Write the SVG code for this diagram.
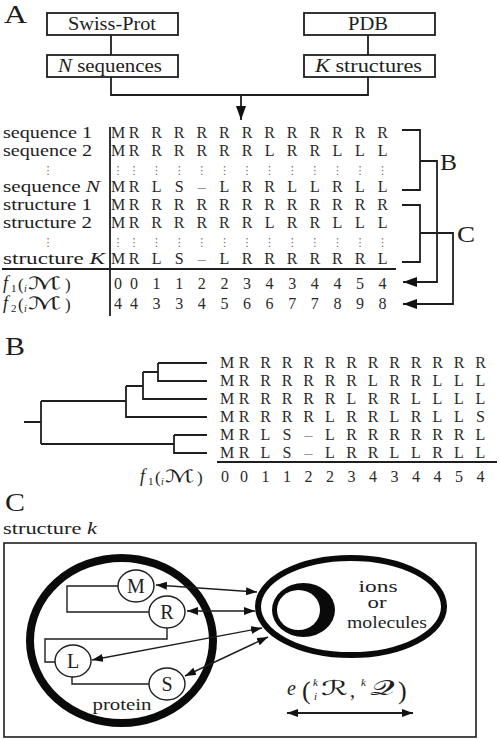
<svg xmlns="http://www.w3.org/2000/svg" width="500" height="739" viewBox="0 0 500 739">
<defs>
<style>
.t{font-family:"Liberation Serif","Times New Roman",serif;fill:#1e1e1e}
.it{font-style:italic}
.big{font-size:25px}
.box{fill:#fff;stroke:#1e1e1e;stroke-width:1.8}
.ln{fill:none;stroke:#1e1e1e;stroke-width:1.8}
.thin{fill:none;stroke:#1e1e1e;stroke-width:1.4}
.mx{font-family:"Liberation Serif","Times New Roman",serif;font-size:16px;fill:#2a2a2a;text-anchor:middle}
.dots{font-family:"DejaVu Sans",sans-serif;font-size:11px;fill:#666;text-anchor:middle}
.lab{font-family:"Liberation Serif","Times New Roman",serif;font-size:16px;fill:#1e1e1e}
.math{font-family:"DejaVu Sans","Noto Sans CJK SC",sans-serif;fill:#1e1e1e}
.dash{fill:#999}
</style>
<marker id="ah" viewBox="0 0 14 10" refX="14" refY="5" markerWidth="14" markerHeight="10" markerUnits="userSpaceOnUse" orient="auto-start-reverse"><path d="M0,0 L14,5 L0,10 z" fill="#111"/></marker>
<marker id="ah2" viewBox="0 0 11 8" refX="11" refY="4" markerWidth="11" markerHeight="8" markerUnits="userSpaceOnUse" orient="auto-start-reverse"><path d="M0,0 L11,4 L0,8 z" fill="#111"/></marker>
</defs>
<rect width="500" height="739" fill="#fff"/>

<!-- Panel labels -->
<text class="t big" x="4" y="23" textLength="23" lengthAdjust="spacingAndGlyphs">A</text>
<text class="t big" x="5" y="355" textLength="20" lengthAdjust="spacingAndGlyphs">B</text>
<text class="t big" x="5" y="511" textLength="20" lengthAdjust="spacingAndGlyphs">C</text>

<!-- Panel A nodes -->
<g id="swissprot"><rect class="box" x="47" y="13" width="131" height="22"/><text class="t" x="112" y="30" font-size="18" text-anchor="middle" textLength="88" lengthAdjust="spacingAndGlyphs">Swiss-Prot</text></g>
<g id="pdb"><rect class="box" x="304" y="13" width="131" height="22"/><text class="t" x="368" y="30" font-size="18" text-anchor="middle" textLength="40" lengthAdjust="spacingAndGlyphs">PDB</text></g>
<g id="nseq"><rect class="box" x="47" y="55" width="131" height="22"/><text class="t" x="58" y="72" font-size="18" textLength="104" lengthAdjust="spacingAndGlyphs"><tspan class="it">N</tspan> sequences</text></g>
<g id="kstruct"><rect class="box" x="304" y="55" width="131" height="22"/><text class="t" x="315" y="72" font-size="18" textLength="107" lengthAdjust="spacingAndGlyphs"><tspan class="it">K</tspan> structures</text></g>

<!-- Alignment matrix A -->
<g id="matrixA">
<text class="lab" x="3" y="138" textLength="89" lengthAdjust="spacingAndGlyphs">sequence 1</text>
<text class="lab" x="3" y="156" textLength="89" lengthAdjust="spacingAndGlyphs">sequence 2</text>
<text class="dots" x="48" y="174" font-size="14">⋮</text>
<text class="lab" x="3" y="192" textLength="97" lengthAdjust="spacingAndGlyphs">sequence <tspan class="it">N</tspan></text>
<text class="lab" x="3" y="210" textLength="89" lengthAdjust="spacingAndGlyphs">structure 1</text>
<text class="lab" x="3" y="228" textLength="89" lengthAdjust="spacingAndGlyphs">structure 2</text>
<text class="dots" x="48" y="246" font-size="14">⋮</text>
<text class="lab" x="3" y="264" textLength="102" lengthAdjust="spacingAndGlyphs">structure <tspan class="it">K</tspan></text>
<g class="lab">
<text class="lab" y="289"><tspan x="3" class="it" font-size="18">f</tspan><tspan x="11" y="292" font-size="11">1</tspan><tspan x="18" y="290" font-size="17">(</tspan><tspan x="24" y="292" font-size="10" class="it">i</tspan><tspan x="28" y="289" class="math" font-size="17" textLength="34" lengthAdjust="spacingAndGlyphs">ℳ</tspan><tspan x="65" y="290" font-size="17">)</tspan></text>
<text class="lab" y="309"><tspan x="3" class="it" font-size="18">f</tspan><tspan x="11" y="312" font-size="11">2</tspan><tspan x="18" y="310" font-size="17">(</tspan><tspan x="24" y="312" font-size="10" class="it">i</tspan><tspan x="28" y="309" class="math" font-size="17" textLength="34" lengthAdjust="spacingAndGlyphs">ℳ</tspan><tspan x="65" y="310" font-size="17">)</tspan></text>
</g>
<line class="ln" x1="110" y1="127" x2="110" y2="316"/>
<line class="ln" x1="2" y1="269" x2="396" y2="269"/>
<text class="mx" y="138" x="118 134 156.6 179.2 201.8 224.4 247 269.6 292.2 314.8 337.4 360 382.6">MRRRRRRRRRRRR</text>
<text class="mx" y="156" x="118 134 156.6 179.2 201.8 224.4 247 269.6 292.2 314.8 337.4 360 382.6">MRRRRRRLRRLLL</text>
<text class="dots" y="174" x="118 134 156.6 179.2 201.8 224.4 247 269.6 292.2 314.8 337.4 360 382.6">⋮⋮⋮⋮⋮⋮⋮⋮⋮⋮⋮⋮⋮</text>
<text class="mx" y="192" x="118 134 156.6 179.2 201.8 224.4 247 269.6 292.2 314.8 337.4 360 382.6">MRLS<tspan class="dash">–</tspan>LRRLLRLL</text>
<text class="mx" y="210" x="118 134 156.6 179.2 201.8 224.4 247 269.6 292.2 314.8 337.4 360 382.6">MRRRRRRRRRRRR</text>
<text class="mx" y="228" x="118 134 156.6 179.2 201.8 224.4 247 269.6 292.2 314.8 337.4 360 382.6">MRRRRRRLRRLLL</text>
<text class="dots" y="246" x="118 134 156.6 179.2 201.8 224.4 247 269.6 292.2 314.8 337.4 360 382.6">⋮⋮⋮⋮⋮⋮⋮⋮⋮⋮⋮⋮⋮</text>
<text class="mx" y="264" x="118 134 156.6 179.2 201.8 224.4 247 269.6 292.2 314.8 337.4 360 382.6">MRLS<tspan class="dash">–</tspan>LRRRRRRL</text>
<text class="mx" y="289" x="118 134 156.6 179.2 201.8 224.4 247 269.6 292.2 314.8 337.4 360 382.6">0011223434454</text>
<text class="mx" y="309" x="118 134 156.6 179.2 201.8 224.4 247 269.6 292.2 314.8 337.4 360 382.6">4433456677898</text>
<text class="t" x="440" y="170" font-size="23" textLength="17" lengthAdjust="spacingAndGlyphs">B</text>
<text class="t" x="457" y="242" font-size="23" textLength="18" lengthAdjust="spacingAndGlyphs">C</text>
</g>

<!-- Panel B -->
<g id="tree">
<path class="ln" d="M24,422 H41 M41,401 V444 M41,401 H126 M126,386 V417 H207 M126,386 H143 M143,372 V399 H207 M143,372 H158 M158,363 V381 H207 M158,363 H207 M41,444 H174 M174,435 V453 H207 M174,435 H207"/>
</g>
<g id="alignmentB">
<text class="mx" y="368" x="227 244 265.5 287 308.5 330 351.5 373 394.5 416 437.5 459 480.5">MRRRRRRRRRRRR</text>
<text class="mx" y="386" x="227 244 265.5 287 308.5 330 351.5 373 394.5 416 437.5 459 480.5">MRRRRRRLRRLLL</text>
<text class="mx" y="404" x="227 244 265.5 287 308.5 330 351.5 373 394.5 416 437.5 459 480.5">MRRRRRLRRLLLL</text>
<text class="mx" y="422" x="227 244 265.5 287 308.5 330 351.5 373 394.5 416 437.5 459 480.5">MRRRRLRRLRLLS</text>
<text class="mx" y="440" x="227 244 265.5 287 308.5 330 351.5 373 394.5 416 437.5 459 480.5">MRLS<tspan class="dash">–</tspan>LRRRRRRL</text>
<text class="mx" y="458" x="227 244 265.5 287 308.5 330 351.5 373 394.5 416 437.5 459 480.5">MRLS<tspan class="dash">–</tspan>LRRLLRLL</text>
<line class="ln" x1="217" y1="462" x2="497" y2="462"/>
<text class="mx" y="482" x="225 244 265.5 287 308.5 330 351.5 373 394.5 416 437.5 459 480.5">0011223434454</text>
<text class="lab" y="482"><tspan x="140" class="it" font-size="18">f</tspan><tspan x="148" y="485" font-size="11">1</tspan><tspan x="155" y="483" font-size="17">(</tspan><tspan x="161" y="485" font-size="10" class="it">i</tspan><tspan x="165" y="482" class="math" font-size="17" textLength="30" lengthAdjust="spacingAndGlyphs">ℳ</tspan><tspan x="197" y="483" font-size="17">)</tspan></text>
</g>

<!-- Panel C -->
<text class="lab" x="3" y="534" textLength="94" lengthAdjust="spacingAndGlyphs">structure <tspan class="it">k</tspan></text>
<rect x="4" y="543" width="472" height="194" fill="none" stroke="#1e1e1e" stroke-width="1.6"/>
<g id="protein">
<ellipse cx="121.5" cy="640.5" rx="91.5" ry="82.5" fill="none" stroke="#0a0a0a" stroke-width="8"/>
<text class="lab" x="122" y="710" text-anchor="middle" textLength="59" lengthAdjust="spacingAndGlyphs">protein</text>
</g>
<g id="ions">
<ellipse cx="351" cy="606.5" rx="93" ry="48.5" fill="none" stroke="#0a0a0a" stroke-width="6"/>
<ellipse cx="303.5" cy="610" rx="31.5" ry="27" fill="#0a0a0a"/>
<ellipse cx="298.5" cy="610" rx="21.5" ry="20" fill="#fff"/>
<text class="lab" x="378" y="592" text-anchor="middle" textLength="39" lengthAdjust="spacingAndGlyphs">ions</text>
<text class="lab" x="377" y="608" text-anchor="middle" textLength="19" lengthAdjust="spacingAndGlyphs">or</text>
<text class="lab" x="387" y="628" text-anchor="middle" textLength="80" lengthAdjust="spacingAndGlyphs">molecules</text>
</g>
<g id="connectors">
<path class="ln" d="M111,35 V55 M368,35 V55 M111,77 V95 H368 V77"/>
<path class="ln" d="M241,95 V120" marker-end="url(#ah)"/>
<path class="ln" d="M402,130 H420 V190 H402 M420,161 H437 V282 H403" marker-end="url(#ah)"/>
<path class="ln" d="M402,205 H420 V262 H402 M420,233 H453 V304 H403" marker-end="url(#ah)"/>
<path class="thin" d="M118,586 H67 V612 H149 M167,628 V639 H45 V662 H55 M72,677 V684 H149"/>
<line class="thin" x1="156" y1="585" x2="257" y2="592" marker-start="url(#ah2)" marker-end="url(#ah2)"/>
<line class="thin" x1="187" y1="611" x2="255" y2="611" marker-start="url(#ah2)" marker-end="url(#ah2)"/>
<line class="thin" x1="92" y1="660" x2="262" y2="628" marker-start="url(#ah2)" marker-end="url(#ah2)"/>
<line class="thin" x1="185" y1="676" x2="268" y2="637" marker-start="url(#ah2)" marker-end="url(#ah2)"/>
<line class="ln" x1="287" y1="713" x2="413" y2="713" marker-start="url(#ah2)" marker-end="url(#ah2)"/>
</g>
<g id="resM"><ellipse cx="136" cy="586" rx="18" ry="16" fill="#fff" stroke="#1e1e1e" stroke-width="1.4"/><text class="t" x="136" y="593" font-size="20" text-anchor="middle">M</text></g>
<g id="resR"><ellipse cx="167" cy="612" rx="18" ry="16" fill="#fff" stroke="#1e1e1e" stroke-width="1.4"/><text class="t" x="167" y="619" font-size="20" text-anchor="middle">R</text></g>
<g id="resL"><ellipse cx="73" cy="661" rx="18" ry="16" fill="#fff" stroke="#1e1e1e" stroke-width="1.4"/><text class="t" x="73" y="668" font-size="20" text-anchor="middle">L</text></g>
<g id="resS"><ellipse cx="167" cy="684" rx="18" ry="16" fill="#fff" stroke="#1e1e1e" stroke-width="1.4"/><text class="t" x="167" y="691" font-size="20" text-anchor="middle">S</text></g>
<g id="energy">
<text class="t it" x="287" y="695" font-size="20">e</text>
<text class="t" x="302" y="699" font-size="26">(</text>
<text class="t it" x="313" y="686" font-size="11">k</text>
<text class="t it" x="314" y="700" font-size="11">i</text>
<text class="math" x="321" y="695" font-size="20" textLength="27" lengthAdjust="spacingAndGlyphs">ℛ</text>
<text class="t" x="350" y="697" font-size="20">,</text>
<text class="t it" x="361" y="686" font-size="11">k</text>
<text class="math" x="370" y="695" font-size="20" textLength="24" lengthAdjust="spacingAndGlyphs">𝒬</text>
<text class="t" x="398" y="699" font-size="26">)</text>
</g>
</svg>
